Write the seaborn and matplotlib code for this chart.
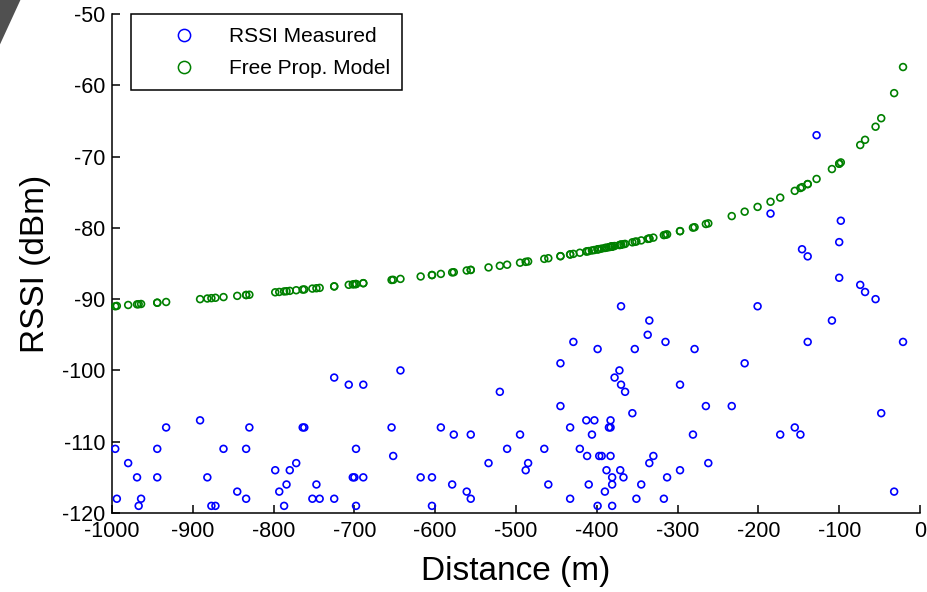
import numpy as np
import seaborn as sns
import matplotlib
matplotlib.use("Agg")
import matplotlib.pyplot as plt
from matplotlib.lines import Line2D
from matplotlib.patches import Polygon

# distance of each sample (m), shared by both series
distance = [-996, -994, -980, -969, -967, -964, -944, -944, -933, -891,
            -882, -877, -872, -862, -845, -834, -834, -830, -798, -793,
            -787, -784, -780, -772, -764, -762, -752, -747, -743, -725,
            -725, -707, -702, -700, -698, -698, -689, -689, -654, -652,
            -643, -618, -604, -604, -593, -579, -577, -561, -556, -556,
            -534, -520, -511, -495, -488, -485, -465, -460, -445, -445,
            -433, -433, -429, -421, -413, -412, -410, -406, -403, -399,
            -399, -397, -394, -390, -388, -385, -383, -383, -383, -381,
            -381, -381, -378, -372, -371, -370, -370, -367, -365, -356,
            -353, -351, -345, -337, -335, -335, -330, -317, -315, -313,
            -297, -297, -281, -279, -265, -262, -233, -217, -201, -185,
            -173, -155, -148, -146, -139, -139, -128, -109, -100, -100,
            -98, -74, -68, -55, -48, -32, -21]

rssi_measured = [-111, -118, -113, -115, -119, -118, -111, -115, -108, -107,
                 -115, -119, -119, -111, -117, -118, -111, -108, -114, -117,
                 -119, -116, -114, -113, -108, -108, -118, -116, -118, -101,
                 -118, -102, -115, -115, -111, -119, -102, -115, -108, -112,
                 -100, -115, -115, -119, -108, -116, -109, -117, -118, -109,
                 -113, -103, -111, -109, -114, -113, -111, -116, -99, -105,
                 -108, -118, -96, -111, -107, -112, -116, -109, -107, -97,
                 -119, -112, -112, -117, -114, -108, -107, -108, -112, -115,
                 -116, -119, -101, -100, -114, -102, -91, -115, -103, -106,
                 -97, -118, -116, -95, -93, -113, -112, -118, -96, -115,
                 -102, -114, -109, -97, -105, -113, -105, -99, -91, -78,
                 -109, -108, -109, -83, -84, -96, -67, -93, -82, -87,
                 -79, -88, -89, -90, -106, -117, -96]

rssi_model = [-91.0, -90.95, -90.82, -90.73, -90.71, -90.68, -90.5, -90.5, -90.4, -90.0,
              -89.91, -89.86, -89.81, -89.71, -89.54, -89.42, -89.42, -89.38, -89.04, -88.99,
              -88.92, -88.89, -88.84, -88.75, -88.66, -88.64, -88.52, -88.47, -88.42, -88.21,
              -88.21, -87.99, -87.93, -87.9, -87.88, -87.88, -87.76, -87.76, -87.31, -87.29,
              -87.16, -86.82, -86.62, -86.62, -86.46, -86.25, -86.22, -85.98, -85.9, -85.9,
              -85.55, -85.32, -85.17, -84.89, -84.77, -84.71, -84.35, -84.26, -83.97, -83.97,
              -83.73, -83.73, -83.65, -83.49, -83.32, -83.3, -83.26, -83.17, -83.11, -83.02,
              -83.02, -82.98, -82.91, -82.82, -82.78, -82.71, -82.66, -82.66, -82.66, -82.62,
              -82.62, -82.62, -82.55, -82.41, -82.39, -82.36, -82.36, -82.29, -82.25, -82.03,
              -81.96, -81.91, -81.76, -81.55, -81.5, -81.5, -81.37, -81.02, -80.97, -80.91,
              -80.46, -80.46, -79.97, -79.91, -79.46, -79.37, -78.35, -77.73, -77.06, -76.34,
              -75.76, -74.81, -74.41, -74.29, -73.86, -73.86, -73.14, -71.75, -71.0, -71.0,
              -70.82, -68.38, -67.65, -65.81, -64.62, -61.1, -57.44]

x_ticks = list(range(-1000, 1, 100))
y_ticks = list(range(-120, -49, 10))

sns.set_style("ticks")
plt.rcParams['font.family'] = ['Liberation Sans', 'DejaVu Sans']
plt.rcParams['axes.unicode_minus'] = False
plt.rcParams['text.color'] = 'black'
plt.rcParams['axes.labelcolor'] = 'black'

fig = plt.figure(figsize=(9.28, 5.92), dpi=100)
ax = fig.add_axes([112 / 928, 1 - 513 / 592, 808 / 928, 499 / 592])

sns.scatterplot(x=distance, y=rssi_measured, ax=ax, marker='o', s=24,
                facecolors='none', edgecolor=(0, 0, 1), linewidth=1.2,
                clip_on=False, zorder=3)
sns.scatterplot(x=distance, y=rssi_model, ax=ax, marker='o', s=24,
                facecolors='none', edgecolor=(0, 0.5, 0), linewidth=1.2,
                clip_on=False, zorder=3)

ax.set_xlim(-1000, 0)
ax.set_ylim(-120, -50)
ax.set_xticks(x_ticks)
ax.set_yticks(y_ticks)
ax.tick_params(direction='in', length=6, width=1.1, labelsize=15.5,
               colors='black')
ax.tick_params(axis='x', pad=6)
ax.tick_params(axis='y', pad=5)
sns.despine(ax=ax)
for side in ['left', 'bottom']:
    ax.spines[side].set_linewidth(1.1)
    ax.spines[side].set_color('black')

ax.set_xlabel('Distance (m)', fontsize=24, labelpad=10, color='black')
ax.set_ylabel('RSSI (dBm)', fontsize=24, labelpad=8, color='black')

handles = [
    Line2D([], [], linestyle='none', marker='o', markersize=8.8,
           markerfacecolor='none', markeredgecolor=(0, 0, 1), markeredgewidth=1.1),
    Line2D([], [], linestyle='none', marker='o', markersize=8.8,
           markerfacecolor='none', markeredgecolor=(0, 0.5, 0), markeredgewidth=1.1),
]
leg = ax.legend(handles, ['RSSI Measured', 'Free Prop. Model'], loc='upper left',
                bbox_to_anchor=(0.023, 0.999), borderaxespad=0, fontsize=15,
                frameon=True, fancybox=False, handlelength=3.9, handletextpad=0.2,
                borderpad=0.6, labelspacing=0.62)
leg.get_frame().set_edgecolor('black')
leg.get_frame().set_linewidth(1.1)
leg.get_frame().set_alpha(1)
for t in leg.get_texts():
    t.set_color('black')

# dark corner artefact at the top left of the picture
fig.patches.append(Polygon([(0, 1), (0.022, 1), (0, 0.925)], closed=True,
                           transform=fig.transFigure, facecolor='#505050',
                           edgecolor='none'))

fig.savefig('out.png', dpi=100)
